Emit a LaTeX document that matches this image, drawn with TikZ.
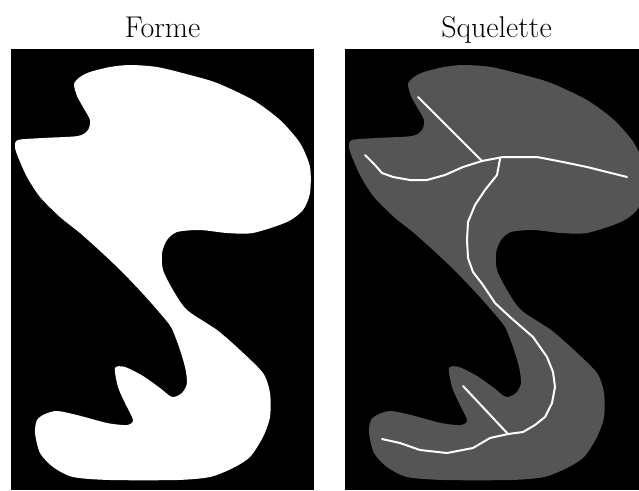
\documentclass[tikz,border=0pt]{standalone}
\usepackage{tikz}
\definecolor{fond}{HTML}{000000}
\definecolor{ombre}{HTML}{555555}
\tikzset{
  panneau/.style={fill=fond},
  titre/.style={anchor=base, font=\fontsize{30}{34}\selectfont},
  squel/.style={draw=white, line width=2pt, line join=round, line cap=round},
  forme/.style={insert path={
    plot[smooth cycle, tension=0.45] coordinates {
      (74,84) (80,77) (90,72) (110,67) (130,65) (157,67) (190,75) (217,83)
      (253,100) (280,120) (300,143) (310,167) (310,193) (303,210) (287,222)
      (253,233) (227,233) (200,230) (177,232) (167,240) (162,253) (163,270)
      (173,290) (187,310) (217,330) (240,350) (263,373) (270,393) (270,417)
      (263,437) (250,457) (233,468) (210,477) (177,480) (110,480) (73,477)
      (53,467) (40,453) (35,433) (37,420) (45,414) (57,411) (77,415) (107,423)
      (127,425) (133,420) (125,403) (118,387) (115,368) (125,367) (143,376)
      (160,388) (172,397) (182,393) (187,383) (185,367) (179,347) (171,327)
      (159,312) (145,296) (129,279) (114,264) (99,250) (80,233)
      (60,217) (40,197) (27,177) (18,157) (15,147) (18,140) (43,138) (78,136)
      (88,130) (90,120) (83,107) (77,96)
    }}},
}

\begin{document}
\begin{tikzpicture}[x=1pt, y=-1pt]
  \useasboundingbox (0,0) rectangle (639,490);

  % Titres
  \node[titre] (tforme) at (162.5,37) {Forme};
  \node[titre] (tsquel) at (496.5,37) {Squelette};

  % Forme
  \fill[panneau] (11,49) rectangle (314,490);
  \fill[white, forme];

  % Squelette
  \fill[panneau] (345,49) rectangle (639,490);
  \begin{scope}
    \clip (345,49) rectangle (639,490);
    \fill[ombre, shift={(334,0)}, forme];
  \end{scope}
  \coordinate (j1) at (482,161);
  \coordinate (j2) at (508,434);
  \draw[squel] (418,97) -- (j1);
  \draw[squel] (365,155) -- (375,165) -- (382,173) -- (393,177) -- (410,180)
    -- (427,180) -- (445,175) -- (463,167) -- (j1);
  \draw[squel] (j1) -- (503,157) -- (537,157) -- (563,162) -- (587,167)
    -- (627,177);
  \draw[squel] (500,159) -- (497,175) -- (485,190) -- (475,205) -- (468,222)
    -- (467,240) -- (468,258) -- (473,272) -- (483,285) -- (495,303)
    -- (510,317) -- (533,337) -- (547,357) -- (553,372) -- (555,387)
    -- (552,403) -- (545,417) -- (535,425) -- (523,432) -- (j2);
  \draw[squel] (463,386) -- (j2);
  \draw[squel] (j2) -- (490,438) -- (473,448) -- (447,453) -- (420,450)
    -- (400,443) -- (382,439);
\end{tikzpicture}
\end{document}
